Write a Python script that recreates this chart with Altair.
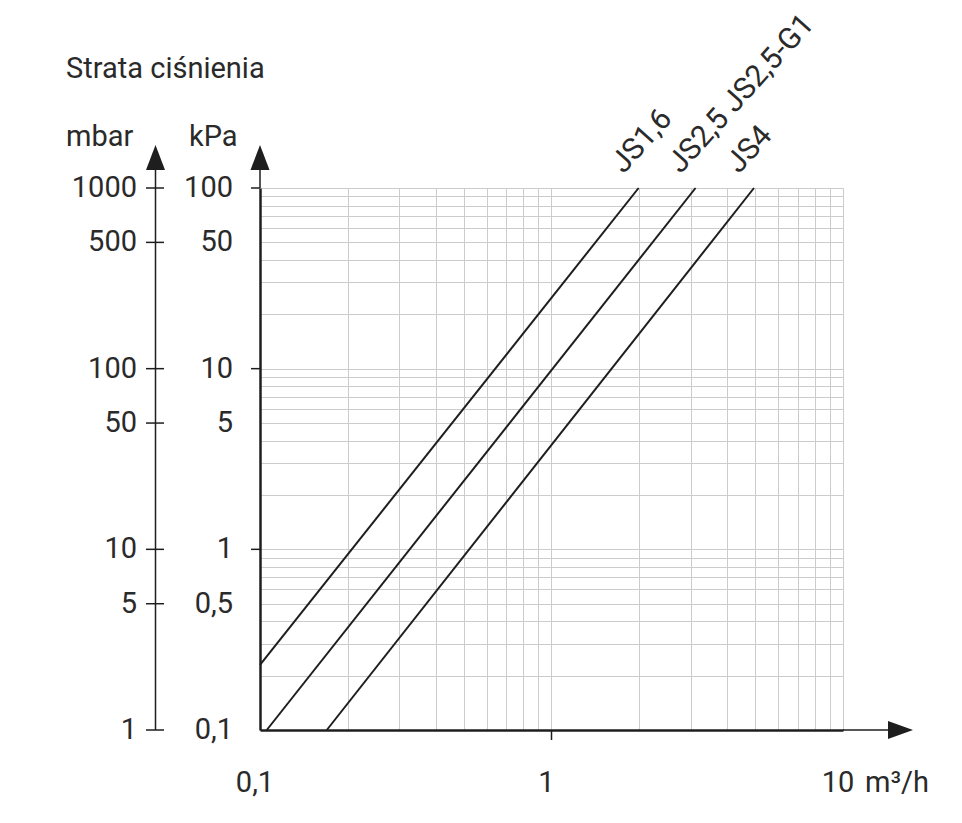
import altair as alt
import pandas as pd

# ---- data (flow in m3/h, pressure drop in kPa) ----
js16_flow = [0.1, 1.99]
js16_dp = [0.229, 100]
js25_flow = [0.1055, 3.12]
js25_dp = [0.1, 100]
js4_flow = [0.1695, 4.95]
js4_dp = [0.1, 100]

curve_names = ["JS1,6", "JS2,5 JS2,5-G1", "JS4"]
curve_label_flow = [1.99, 3.12, 4.95]
curve_label_dp = [100, 100, 100]

x_tick_values = [0.1, 1, 10]
x_tick_labels = ["0,1", "1", "10"]
x_major_ticks = [1]

kpa_tick_values = [0.1, 0.5, 1, 5, 10, 50, 100]
kpa_tick_labels = ["0,1", "0,5", "1", "5", "10", "50", "100"]
kpa_major_ticks = [1, 10, 100]

mbar_tick_values = [1, 5, 10, 50, 100, 500, 1000]
mbar_tick_labels = ["1", "5", "10", "50", "100", "500", "1000"]

grid_x = [0.1, 0.2, 0.3, 0.4, 0.5, 0.6, 0.7, 0.8, 0.9,
          1, 2, 3, 4, 5, 6, 7, 8, 9, 10]
grid_y = [0.1, 0.2, 0.3, 0.4, 0.5, 0.6, 0.7, 0.8, 0.9,
          1, 2, 3, 4, 5, 6, 7, 8, 9,
          10, 20, 30, 40, 50, 60, 70, 80, 90, 100]

# ---- tables ----
curves = pd.DataFrame({
    "flow": js16_flow + js25_flow + js4_flow,
    "dp": js16_dp + js25_dp + js4_dp,
    "series": ["JS1,6"] * 2 + ["JS2,5"] * 2 + ["JS4"] * 2,
})
curve_labels = pd.DataFrame({"flow": curve_label_flow, "dp": curve_label_dp, "name": curve_names})
xlab = pd.DataFrame({"flow": x_tick_values, "label": x_tick_labels})
xmaj = pd.DataFrame({"flow": x_major_ticks})
kpa = pd.DataFrame({"dp": kpa_tick_values, "label": kpa_tick_labels})
kpamaj = pd.DataFrame({"dp": kpa_major_ticks})
mbar = pd.DataFrame({"dp": [v / 10 for v in mbar_tick_values], "label": mbar_tick_labels})
one = pd.DataFrame({"k": [0]})

W, H = 583, 542
FONT = "Roboto"
TXT = "#2a2a2a"
INK = "#1e1e1e"
FS = 29

xscale = alt.Scale(type="log", domain=[0.1, 10], nice=False)
yscale = alt.Scale(type="log", domain=[0.1, 100], nice=False)
xaxis = alt.Axis(values=grid_x, grid=True, gridColor="#cccccc", gridWidth=1,
                 labels=False, ticks=False, domain=True, domainColor=INK,
                 domainWidth=2.5, title=None)
yaxis = alt.Axis(values=grid_y, grid=True, gridColor="#cccccc", gridWidth=1,
                 labels=False, ticks=False, domain=True, domainColor=INK,
                 domainWidth=2.5, title=None)

def X(f):
    return alt.X(f, scale=xscale, axis=xaxis)

def Y(f):
    return alt.Y(f, scale=yscale, axis=yaxis)

lines = alt.Chart(curves).mark_line(color=INK, strokeWidth=2).encode(
    x=X("flow:Q"), y=Y("dp:Q"), detail="series:N")

names = alt.Chart(curve_labels).mark_text(
    font=FONT, fontSize=30, color=TXT, angle=312, align="left",
    baseline="alphabetic", dx=0, dy=-20).encode(
    x=X("flow:Q"), y=Y("dp:Q"), text="name:N")

xlabels = alt.Chart(xlab).mark_text(
    font=FONT, fontSize=FS, color=TXT, align="center", baseline="alphabetic", dx=-5).encode(
    x=X("flow:Q"), y=alt.value(H + 62), text="label:N")

xticks = alt.Chart(xmaj).mark_rule(color=INK, strokeWidth=1.5).encode(
    x=X("flow:Q"), y=alt.value(H), y2=alt.value(H + 10))

unit_x = alt.Chart(one).mark_text(
    font=FONT, fontSize=FS, color=TXT, align="left", baseline="alphabetic", text="m³/h").encode(
    x=alt.value(605), y=alt.value(H + 62))

kpalabels = alt.Chart(kpa).mark_text(
    font=FONT, fontSize=FS, color=TXT, align="right", baseline="middle").encode(
    x=alt.value(-27), y=Y("dp:Q"), text="label:N")

kpaticks = alt.Chart(kpamaj).mark_rule(color=INK, strokeWidth=1.5).encode(
    x=alt.value(-9), x2=alt.value(0), y=Y("dp:Q"))

mbarlabels = alt.Chart(mbar).mark_text(
    font=FONT, fontSize=FS, color=TXT, align="right", baseline="middle").encode(
    x=alt.value(-123), y=Y("dp:Q"), text="label:N")

mbarticks = alt.Chart(mbar).mark_rule(color=INK, strokeWidth=1.5).encode(
    x=alt.value(-114), x2=alt.value(-96), y=Y("dp:Q"))

mbar_axis = alt.Chart(one).mark_rule(color=INK, strokeWidth=1.5).encode(
    x=alt.value(-104.5), y=alt.value(H), y2=alt.value(-20))
kpa_ext = alt.Chart(one).mark_rule(color=INK, strokeWidth=1.5).encode(
    x=alt.value(0), y=alt.value(0), y2=alt.value(-20))
x_ext = alt.Chart(one).mark_rule(color=INK, strokeWidth=1.5).encode(
    x=alt.value(W), x2=alt.value(W + 50), y=alt.value(H))

up_arrow = "M0,-1L0.76,1L-0.76,1Z"
right_arrow = "M1,0L-1,-0.72L-1,0.72Z"
arr_mbar = alt.Chart(one).mark_point(shape=up_arrow, size=625, filled=True, color=INK, opacity=1).encode(
    x=alt.value(-104.5), y=alt.value(-30.5))
arr_kpa = alt.Chart(one).mark_point(shape=up_arrow, size=625, filled=True, color=INK, opacity=1).encode(
    x=alt.value(0), y=alt.value(-30.5))
arr_x = alt.Chart(one).mark_point(shape=right_arrow, size=625, filled=True, color=INK, opacity=1).encode(
    x=alt.value(W + 57.5), y=alt.value(H))

def label(txt, x, y):
    return alt.Chart(one).mark_text(
        font=FONT, fontSize=FS, color=TXT, align="left", baseline="alphabetic", text=txt).encode(
        x=alt.value(x), y=alt.value(y))

chart = alt.layer(
    lines, names, xlabels, xticks, unit_x, kpalabels, kpaticks, mbarlabels, mbarticks,
    mbar_axis, kpa_ext, x_ext, arr_mbar, arr_kpa, arr_x,
    label("Strata ciśnienia", -194, -110),
    label("mbar", -194, -42),
    label("kPa", -71, -42),
).properties(
    width=W, height=H,
    autosize=alt.AutoSizeParams(type="none"),
    padding={"left": 252, "top": 180, "right": 111, "bottom": 85},
).configure_view(stroke=None).configure(background="white")

chart.save("out.html", embed_options={"renderer": "svg", "actions": False})
